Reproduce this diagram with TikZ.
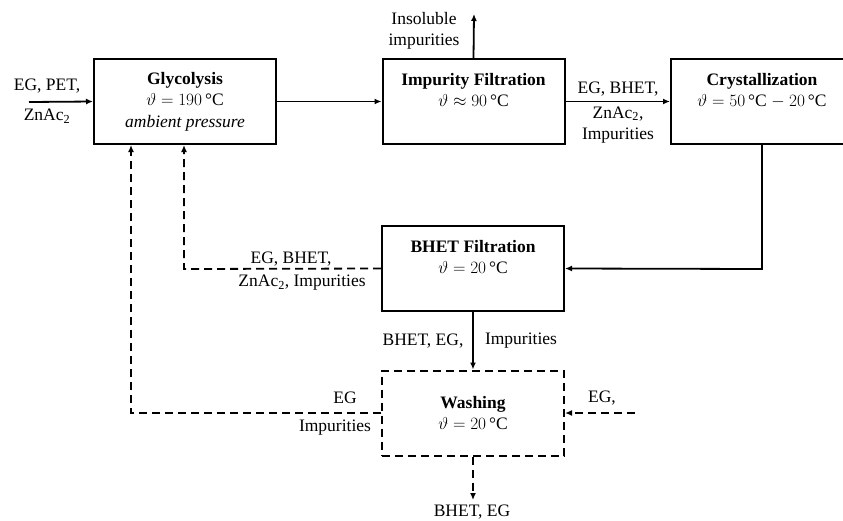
\documentclass[tikz,border=0pt]{standalone}
\usepackage{fontspec}
\setmainfont{Liberation Serif}[BoldFont={Liberation Serif Bold},ItalicFont={Liberation Serif Italic}]
\usetikzlibrary{arrows.meta}
\newcommand{\degC}{\,°C}
\begin{document}
\begin{tikzpicture}[x=1pt,y=-1pt,
  font=\fontsize{17.5pt}{21.5pt}\selectfont,
  box/.style={draw,line width=2pt,minimum width=182pt,minimum height=85pt,align=center,inner sep=0pt},
  dbox/.style={box,dash pattern=on 8pt off 5pt},
  flow/.style={line width=1.8pt,-{Latex[length=7pt,width=6pt]}},
  dflow/.style={flow,dash pattern=on 8pt off 5pt},
  lbl/.style={inner sep=0pt,align=center}]
\useasboundingbox (0,0) rectangle (843,520);
\node[box] (gly) at (185,101.5) {\textbf{Glycolysis}\\$\vartheta = 190$\degC\\\textit{ambient pressure}};
\node[box] (imp) at (473.5,101.5) {\textbf{Impurity Filtration}\\$\vartheta \approx 90$\degC\\[2pt]};
\node[box] (cry) at (762,101.5) {\textbf{Crystallization}\\$\vartheta = 50$\degC\ $-$ $20$\degC\\[2pt]};
\node[box] (bfil) at (473,268.5) {\textbf{BHET Filtration}\\$\vartheta = 20$\degC\\[2pt]};
\node[dbox] (wash) at (473,413) {\textbf{Washing}\\$\vartheta = 20$\degC};
\coordinate (in) at (29,102);
\coordinate (ins) at (474,14);
\coordinate (out) at (473,500);
\coordinate (ew) at (635,413);
\coordinate (c1) at (762,269);
\coordinate (r1) at (184,269);
\coordinate (r2) at (131,413);
\draw[flow] (in) -- (gly.west);
\draw[flow] (gly.east) -- (imp.west);
\draw[flow] (imp.north) -- (ins);
\draw[flow] (imp.east) -- (cry.west);
\draw[flow] (cry.south) -- (c1) -- (bfil.east);
\draw[flow] (bfil.south) -- (wash.north);
\draw[dflow] (bfil.west) -- (r1) -- (r1 |- gly.south);
\draw[dflow] (wash.west) -- (r2) -- (r2 |- gly.south);
\draw[dflow] (ew) -- (wash.east);
\draw[dflow] (wash.south) -- (out);
\node[lbl] (l1) at (47,86) {EG, PET,};
\node[lbl] (l2) at (47,116) {ZnAc\textsubscript{2}};
\node[lbl] (l3) at (424,31) {Insoluble\\impurities};
\node[lbl] (l4) at (618,89) {EG, BHET,};
\node[lbl] (l5) at (618,125) {ZnAc\textsubscript{2},\\Impurities};
\node[lbl] (l6) at (291,259) {EG, BHET,};
\node[lbl] (l7) at (302,283) {ZnAc\textsubscript{2}, Impurities};
\node[lbl] (l8) at (423,341) {BHET, EG,};
\node[lbl] (l9) at (521,341) {Impurities};
\node[lbl] (l10) at (345,398) {EG};
\node[lbl] (l11) at (335,428) {Impurities};
\node[lbl] (l12) at (602,398) {EG,};
\node[lbl] (l13) at (472,512) {BHET, EG};
\end{tikzpicture}
\end{document}
